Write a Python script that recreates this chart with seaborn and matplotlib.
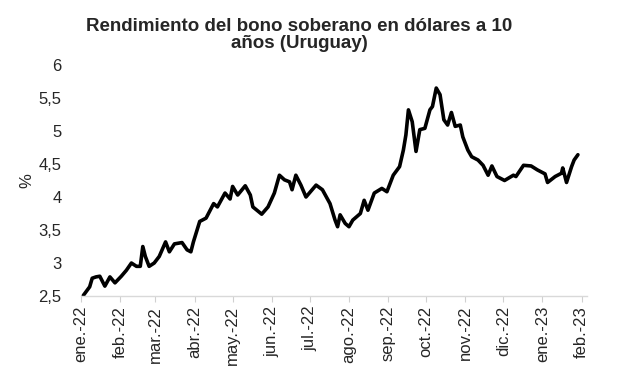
import pandas as pd
import matplotlib
matplotlib.use('Agg')
import matplotlib.pyplot as plt
import seaborn as sns

# values
dates = [
    '2022-01-03', '2022-01-08', '2022-01-10', '2022-01-13', '2022-01-16', '2022-01-20',
    '2022-01-24', '2022-01-28', '2022-02-02', '2022-02-06', '2022-02-10', '2022-02-14',
    '2022-02-17', '2022-02-19', '2022-02-21', '2022-02-24', '2022-02-28', '2022-03-04',
    '2022-03-09', '2022-03-12', '2022-03-16', '2022-03-22', '2022-03-26', '2022-03-29',
    '2022-03-31', '2022-04-05', '2022-04-10', '2022-04-16', '2022-04-19', '2022-04-25',
    '2022-04-29', '2022-05-01', '2022-05-05', '2022-05-11', '2022-05-15', '2022-05-17',
    '2022-05-24', '2022-05-29', '2022-06-03', '2022-06-07', '2022-06-11', '2022-06-15',
    '2022-06-17', '2022-06-20', '2022-06-24', '2022-06-28', '2022-07-06', '2022-07-11',
    '2022-07-17', '2022-07-21', '2022-07-23', '2022-07-25', '2022-07-29', '2022-08-01',
    '2022-08-04', '2022-08-10', '2022-08-13', '2022-08-16', '2022-08-21', '2022-08-27',
    '2022-08-31', '2022-09-05', '2022-09-10', '2022-09-13', '2022-09-15', '2022-09-17',
    '2022-09-20', '2022-09-23', '2022-09-26', '2022-09-30', '2022-10-04', '2022-10-06',
    '2022-10-09', '2022-10-12', '2022-10-15', '2022-10-18', '2022-10-21', '2022-10-24',
    '2022-10-28', '2022-10-30', '2022-11-03', '2022-11-06', '2022-11-11', '2022-11-15',
    '2022-11-19', '2022-11-22', '2022-11-26', '2022-12-02', '2022-12-09', '2022-12-11',
    '2022-12-17', '2022-12-23', '2022-12-28', '2023-01-03', '2023-01-05', '2023-01-11',
    '2023-01-16', '2023-01-17', '2023-01-20', '2023-01-24', '2023-01-26', '2023-01-29',
]
yields = [
    2.51, 2.64, 2.77, 2.79, 2.80, 2.65,
    2.79, 2.70, 2.80, 2.89, 3.00, 2.95,
    2.95, 3.25, 3.10, 2.95, 3.00, 3.10,
    3.32, 3.17, 3.29, 3.31, 3.20, 3.17,
    3.32, 3.63, 3.68, 3.90, 3.85, 4.06,
    3.97, 4.16, 4.03, 4.17, 4.03, 3.85,
    3.74, 3.85, 4.06, 4.33, 4.26, 4.23,
    4.11, 4.33, 4.18, 4.00, 4.18, 4.11,
    3.90, 3.65, 3.55, 3.73, 3.60, 3.55,
    3.65, 3.75, 3.95, 3.80, 4.06, 4.13,
    4.08, 4.33, 4.46, 4.71, 4.94, 5.32,
    5.14, 4.69, 5.02, 5.04, 5.32, 5.37,
    5.65, 5.55, 5.17, 5.09, 5.28, 5.07,
    5.09, 4.91, 4.71, 4.61, 4.56, 4.48,
    4.33, 4.47, 4.31, 4.25, 4.33, 4.31,
    4.48, 4.47, 4.41, 4.35, 4.22, 4.31,
    4.36, 4.44, 4.22, 4.46, 4.56, 4.64,
]
month_labels = ['ene.-22', 'feb.-22', 'mar.-22', 'abr.-22', 'may.-22', 'jun.-22', 'jul.-22',
                'ago.-22', 'sep.-22', 'oct.-22', 'nov.-22', 'dic.-22', 'ene.-23', 'feb.-23']
y_ticks = [2.5, 3, 3.5, 4, 4.5, 5, 5.5, 6]

df = pd.DataFrame({'fecha': pd.to_datetime(dates), 'rendimiento': yields})

sns.set_style('white')
plt.rcParams['font.family'] = ['Liberation Sans', 'DejaVu Sans']

fig = plt.figure(figsize=(6.17, 3.82), dpi=100)
ax = fig.add_axes([0.131, 0.225, 0.82, 0.605])

sns.lineplot(data=df, x='fecha', y='rendimiento', color='black', linewidth=2.6, ax=ax)

ax.set_xlim(pd.Timestamp('2022-01-01'), pd.Timestamp('2023-02-05'))
ax.set_ylim(2.5, 6)

ticks = pd.date_range('2022-01-01', '2023-02-01', freq='MS')
ax.set_xticks(ticks)
ax.set_xticklabels(month_labels, rotation=90, fontsize=12)
ax.set_yticks(y_ticks)
ax.set_yticklabels([f'{t:g}'.replace('.', ',') for t in y_ticks], fontsize=12)

ax.tick_params(axis='x', length=4, width=0.8, color='#d0d0d0', direction='out', pad=3, bottom=True)
ax.tick_params(axis='y', length=0, pad=14)

for side in ['top', 'right', 'left']:
    ax.spines[side].set_visible(False)
ax.spines['bottom'].set_color('#d9d9d9')
ax.spines['bottom'].set_linewidth(1)

ax.set_xlabel('')
ax.set_ylabel('%', fontsize=12, labelpad=3)

fig.text(0.485, 0.952, 'Rendimiento del bono soberano en dólares a 10\naños (Uruguay)',
         ha='center', va='top', fontsize=13.5, fontweight='bold', linespacing=1.0)

fig.savefig('out.png', dpi=100)
